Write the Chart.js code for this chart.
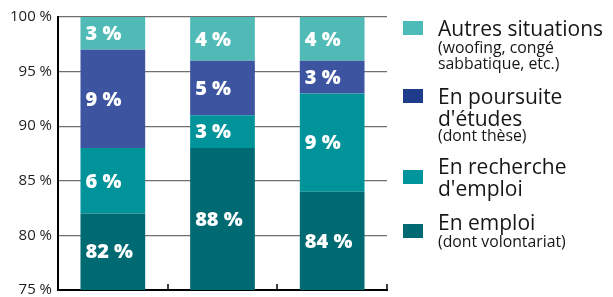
<!DOCTYPE html>
<html>
<head>
<meta charset="utf-8">
<script src="https://cdn.jsdelivr.net/npm/chart.js@4/dist/chart.umd.min.js"></script>
<style>
  html, body { margin: 0; padding: 0; background: #fff; overflow: hidden; width: 613px; height: 297px; }
  #wrap { position: absolute; left: 0; top: 0; width: 400px; height: 310px; }
  #legend { position: absolute; left: 0; top: 0; width: 613px; height: 297px; font-family: "Open Sans", "Noto Sans", sans-serif; color: #161616; }
  .sq { position: absolute; left: 403px; width: 20px; height: 14px; }
  .item { position: absolute; left: 438px; white-space: nowrap; }
  .main { font-size: 21px; line-height: 22px; }
  .sub { font-size: 15.8px; line-height: 16px; }
</style>
</head>
<body>
<div id="wrap"><canvas id="c"></canvas></div>
<div id="legend"></div>
<script>
// ---- data ----
const categories = ['', '', ''];
const seriesNames = ['En emploi', "En recherche d'emploi", "En poursuite d'études", 'Autres situations'];
const emploi = [82, 88, 84];
const recherche = [6, 3, 9];
const poursuite = [9, 5, 3];
const autres = [3, 4, 4];
const yMin = 75, yMax = 100, yStep = 5;
const legendMain = [['Autres situations'], ['En poursuite', "d'études"], ['En recherche', "d'emploi"], ['En emploi']];
const legendSub = [['(woofing, congé', 'sabbatique, etc.)'], ['(dont thèse)'], [], ['(dont volontariat)']];

// ---- styles ----
const barColors = ['#006A73', '#00949A', '#3D55A0', '#4FBAB6'];
const legendColors = ['#4DBCB8', '#1F3B8C', '#00959D', '#006A72'];

const values = [emploi, recherche, poursuite, autres];

// legend (HTML text)
const legendEl = document.getElementById('legend');
const sqTops = [21, 89, 170, 224];
const itemTops = [17, 85, 155, 211];
const subMargins = [0, -2, 0, 0];
legendMain.forEach((lines, i) => {
  const sq = document.createElement('div');
  sq.className = 'sq';
  sq.style.top = sqTops[i] + 'px';
  sq.style.background = legendColors[i];
  legendEl.appendChild(sq);
  const it = document.createElement('div');
  it.className = 'item';
  it.style.top = itemTops[i] + 'px';
  lines.forEach(t => { const d = document.createElement('div'); d.className = 'main'; d.textContent = t; it.appendChild(d); });
  legendSub[i].forEach((t, k) => { const d = document.createElement('div'); d.className = 'sub'; d.textContent = t; if (k === 0) d.style.marginTop = subMargins[i] + 'px'; it.appendChild(d); });
  legendEl.appendChild(it);
});

const labelPlugin = {
  id: 'segLabels',
  afterDatasetsDraw(chart) {
    const ctx = chart.ctx, area = chart.chartArea;
    ctx.save();
    ctx.fillStyle = '#ffffff';
    ctx.font = '800 20px "Open Sans", "Noto Sans", sans-serif';
    ctx.textAlign = 'left';
    ctx.textBaseline = 'middle';
    chart.data.datasets.forEach((ds, i) => {
      const meta = chart.getDatasetMeta(i);
      meta.data.forEach((bar, j) => {
        const p = bar.getProps(['x', 'y', 'base', 'width'], true);
        const top = Math.max(Math.min(p.y, p.base), area.top);
        const bottom = Math.min(Math.max(p.y, p.base), area.bottom);
        const cy = (top + bottom) / 2 + 1;
        ctx.fillText(ds.data[j] + ' %', p.x - p.width / 2 + 5, cy);
      });
    });
    ctx.restore();
  }
};

const tickPlugin = {
  id: 'innerTicks',
  afterDraw(chart) {
    const xs = chart.scales.x, area = chart.chartArea, ctx = chart.ctx;
    const step = xs.getPixelForValue(1) - xs.getPixelForValue(0);
    ctx.save();
    ctx.strokeStyle = '#000';
    ctx.lineWidth = 1.5;
    for (let i = 0; i < categories.length; i++) {
      const px = Math.round(xs.getPixelForValue(i) + step / 2);
      ctx.beginPath();
      ctx.moveTo(px, area.bottom);
      ctx.lineTo(px, area.bottom - 6);
      ctx.stroke();
    }
    ctx.restore();
  }
};

new Chart(document.getElementById('c'), {
  type: 'bar',
  data: {
    labels: categories,
    datasets: values.map((v, i) => ({
      label: seriesNames[i],
      data: v,
      backgroundColor: barColors[i],
      borderWidth: 0,
      barPercentage: 0.59,
      categoryPercentage: 1
    }))
  },
  options: {
    responsive: true,
    maintainAspectRatio: false,
    animation: false,
    layout: { padding: { top: 17, right: 13, bottom: 20, left: 0 } },
    plugins: { legend: { display: false }, tooltip: { enabled: false } },
    scales: {
      x: {
        stacked: true,
        grid: { display: true, drawOnChartArea: false, drawTicks: false, color: 'rgba(0,0,0,0)' },
        border: { display: true, color: '#000', width: 2 },
        ticks: { display: false }
      },
      y: {
        stacked: true,
        min: yMin, max: yMax,
        afterFit(s) { s.width = 58; },
        grid: { color: '#6f6f6f', lineWidth: 1.3, drawTicks: false },
        border: { display: true, color: '#000', width: 2 },
        ticks: {
          stepSize: yStep,
          padding: 6,
          color: '#1e1e1e',
          font: { family: '"Open Sans", "Noto Sans", sans-serif', size: 15 },
          callback: v => v + ' %'
        }
      }
    }
  },
  plugins: [labelPlugin, tickPlugin]
});
</script>
</body>
</html>
